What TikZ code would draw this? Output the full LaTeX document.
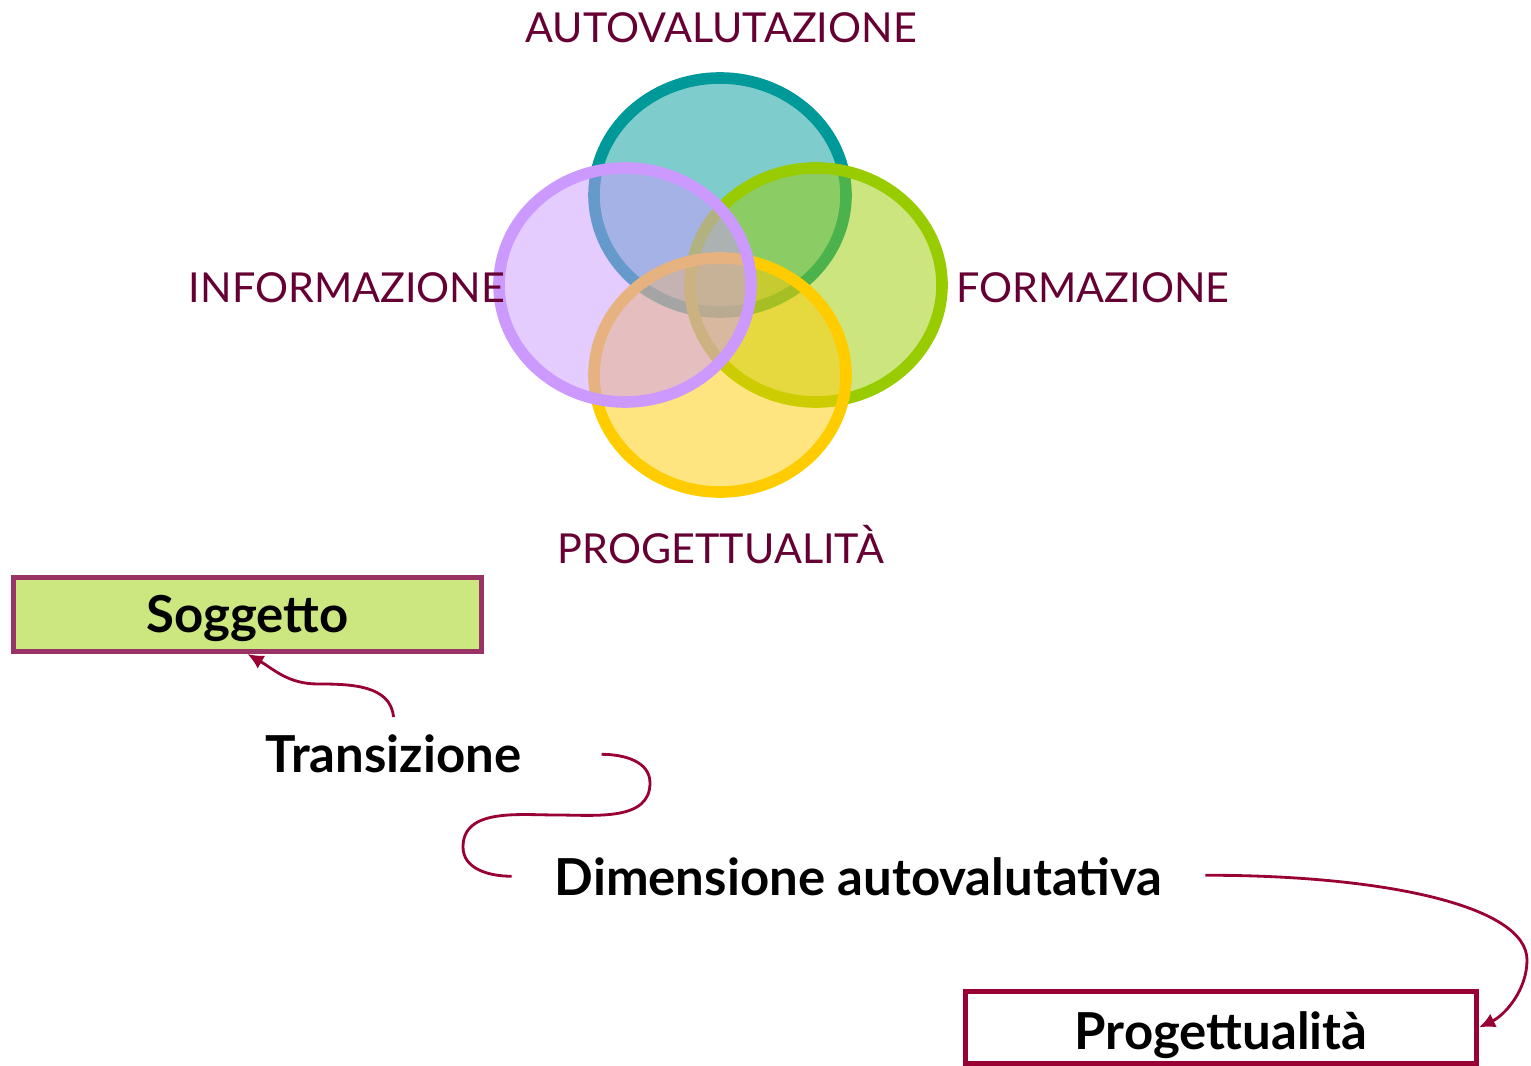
\documentclass[tikz,border=0pt]{standalone}
\usepackage{fontspec}
\setmainfont{Lato}
\usepackage{xcolor}
\usetikzlibrary{arrows.meta, calc}

\definecolor{ringteal}{HTML}{009999}
\definecolor{ringlilac}{HTML}{CC99FF}
\definecolor{ringgreen}{HTML}{99CC00}
\definecolor{ringyellow}{HTML}{FFCC00}
\definecolor{labelred}{HTML}{660033}
\definecolor{linkred}{HTML}{990033}
\definecolor{boxrose}{HTML}{993366}
\definecolor{boxgreen}{HTML}{CCE680}

\begin{document}
\begin{tikzpicture}[
  x=0.02cm, y=0.02cm,
  ring/.style={line width=6.6pt, fill opacity=0.5},
  lbl/.style={font=\fontsize{23.5}{28}\selectfont, text=labelred, anchor=base},
  strong/.style={font=\fontsize{29}{34}\selectfont\bfseries},
  tag/.style={strong, draw, line width=2.6pt, inner sep=0pt, text depth=0.2cm},
  link/.style={draw=linkred, line width=1.6pt},
  arrow/.style={link, -{Latex[length=3.2mm, width=3mm]}},
]
\useasboundingbox (0,0) rectangle (1531,1065);

\draw[ring, draw=ringteal, fill=ringteal] (720,870) ellipse [x radius=126, y radius=117];
\draw[ring, draw=ringgreen, fill=ringgreen] (816,780) ellipse [x radius=126, y radius=117];
\draw[ring, draw=ringyellow, fill=ringyellow] (720,690) ellipse [x radius=126, y radius=117];
\draw[ring, draw=ringlilac, fill=ringlilac] (625,780) ellipse [x radius=126, y radius=117];

\node[lbl] (auto) at (721,1022) {AUTOVALUTAZIONE};
\node[lbl] (info) at (347,762) {INFORMAZIONE};
\node[lbl] (form) at (1093,762) {FORMAZIONE};
\node[lbl] (prog) at (721,501) {PROGETTUALITÀ};

\node[tag, draw=boxrose, fill=boxgreen, minimum width=9.36cm, minimum height=1.49cm,
      text height=0.94cm] (sogg) at (247.5,450.5) {Soggetto};
\node[strong, anchor=base] (trans) at (393.5,292) {Transizione};
\node[strong, anchor=base] (dim) at (858.5,170) {Dimensione autovalutativa};
\node[tag, draw=linkred, fill=white, minimum width=10.23cm, minimum height=1.45cm,
      text height=1.1cm] (projbox) at (1221,37.5) {Progettualità};

\coordinate (sa) at ($(trans.east)+(74,0)$);
\coordinate (sb) at ($(dim.west)+(-37,0)$);
\coordinate (pa) at ($(dim.east)+(37,1)$);

\draw[arrow] ($(trans.north)+(0,12)$) to[out=95, in=0] (318,381) to[out=180, in=-30] (sogg.south);
\draw[link] (sa) to[out=0, in=90] (650,282) to[out=-90, in=0] (557,250)
  to[out=180, in=90] (463,218) to[out=-90, in=180] (sb);
\draw[arrow] (pa) .. controls (1380,190) and (1527,160) .. (1527,105)
  .. controls (1527,75) and (1505,50) .. (projbox.east);
\end{tikzpicture}
\end{document}
